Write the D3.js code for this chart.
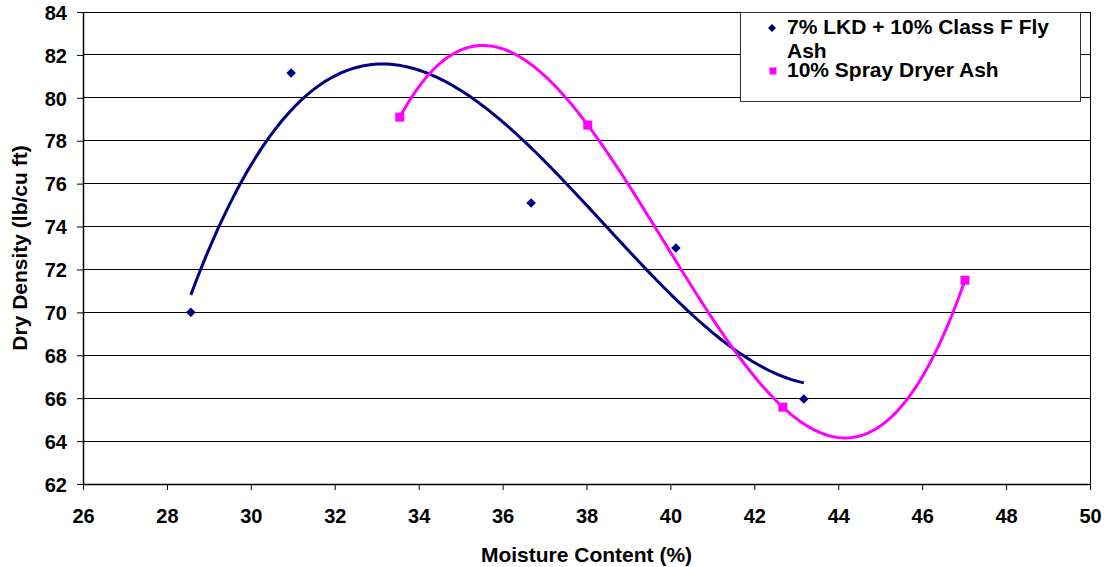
<!DOCTYPE html>
<html>
<head>
<meta charset="utf-8">
<script src="https://cdn.jsdelivr.net/npm/d3@7"></script>
<style>
  body { margin: 0; background: #fff; }
  text { font-family: "Liberation Sans", Arial, sans-serif; font-weight: bold; }
</style>
</head>
<body>
<div id="vis"></div>
<script>
// data
let lkdX = [28.57, 30.96, 36.68, 40.13, 43.18];
let lkdY = [70.0, 81.16, 75.1, 73.0, 65.96];
let sdaX = [33.55, 38.03, 42.68, 47.02];
let sdaY = [79.1, 78.73, 65.58, 71.5];
let xTicks = [26, 28, 30, 32, 34, 36, 38, 40, 42, 44, 46, 48, 50];
let yTicks = [62, 64, 66, 68, 70, 72, 74, 76, 78, 80, 82, 84];
let seriesNames = ['7% LKD + 10% Class F Fly Ash', '10% Spray Dryer Ash'];

let W = 1107, H = 567;
let margin = { top: 12, left: 83, right: 17, bottom: 83 },
    width = W - margin.left - margin.right,
    height = H - margin.top - margin.bottom;

let svg = d3.select('#vis')
    .append('svg')
    .attr('width', W)
    .attr('height', H);

let g = svg.append('g')
    .attr('transform', 'translate(' + margin.left + ',' + margin.top + ')');

let x = d3.scaleLinear().domain([26, 50]).range([0, width]);
let y = d3.scaleLinear().domain([62, 84]).range([height, 0]);

// gridlines
g.append('g')
    .selectAll('line')
    .data(yTicks)
    .enter().append('line')
    .attr('x1', 0).attr('x2', width)
    .attr('y1', d => y(d)).attr('y2', d => y(d))
    .attr('stroke', '#000')
    .attr('stroke-width', 1)
    .attr('shape-rendering', 'crispEdges');

// right border
g.append('line')
    .attr('x1', width).attr('x2', width)
    .attr('y1', 0).attr('y2', height)
    .attr('stroke', '#000')
    .attr('shape-rendering', 'crispEdges');

// axes
let xAxis = g.append('g')
    .attr('transform', 'translate(0,' + height + ')')
    .call(d3.axisBottom(x).tickValues(xTicks).tickSize(6).tickSizeOuter(0).tickPadding(19));
let yAxis = g.append('g')
    .call(d3.axisLeft(y).tickValues(yTicks).tickSize(6).tickSizeOuter(0).tickPadding(10));

[xAxis, yAxis].forEach(a => {
    a.selectAll('path').attr('stroke', '#000').attr('stroke-width', 1.5);
    a.selectAll('line').attr('stroke', '#000');
    a.selectAll('text')
        .attr('fill', '#000')
        .style('font-size', '20px')
        .style('font-family', '"Liberation Sans", Arial, sans-serif')
        .style('font-weight', 'bold');
});
yAxis.selectAll('text').attr('dy', '0.36em');

// least squares polynomial fit (excel-style trendline)
function polyFit(xs, ys, order) {
    let n = order + 1;
    let A = [];
    for (let i = 0; i < n; i++) {
        A.push([]);
        for (let j = 0; j < n; j++) A[i].push(d3.sum(xs, xv => Math.pow(xv, i + j)));
        A[i].push(d3.sum(xs, (xv, k) => ys[k] * Math.pow(xv, i)));
    }
    for (let c = 0; c < n; c++) {
        let p = c;
        for (let r = c + 1; r < n; r++) if (Math.abs(A[r][c]) > Math.abs(A[p][c])) p = r;
        [A[c], A[p]] = [A[p], A[c]];
        for (let r = 0; r < n; r++) {
            if (r === c) continue;
            let f = A[r][c] / A[c][c];
            for (let k = c; k <= n; k++) A[r][k] -= f * A[c][k];
        }
    }
    let coef = A.map((row, i) => row[n] / row[i]);
    return xv => d3.sum(coef, (cf, i) => cf * Math.pow(xv, i));
}

function trend(xs, ys) {
    let f = polyFit(xs, ys, 3);
    let lo = d3.min(xs), hi = d3.max(xs);
    return d3.range(0, 201).map(i => {
        let xv = lo + (hi - lo) * i / 200;
        return [xv, f(xv)];
    });
}

let line = d3.line().x(d => x(d[0])).y(d => y(d[1]));

g.append('path')
    .datum(trend(lkdX, lkdY))
    .attr('fill', 'none')
    .attr('stroke', '#000080')
    .attr('stroke-width', 3)
    .attr('d', line);

g.append('path')
    .datum(trend(sdaX, sdaY))
    .attr('fill', 'none')
    .attr('stroke', '#ff00ff')
    .attr('stroke-width', 3)
    .attr('d', line);

// markers
g.append('g')
    .selectAll('path')
    .data(lkdX.map((d, i) => [d, lkdY[i]]))
    .enter().append('path')
    .attr('d', d3.symbol(d3.symbolDiamond2, 58))
    .attr('transform', d => 'translate(' + x(d[0]) + ',' + y(d[1]) + ')')
    .attr('fill', '#000080');

g.append('g')
    .selectAll('rect')
    .data(sdaX.map((d, i) => [d, sdaY[i]]))
    .enter().append('rect')
    .attr('x', d => x(d[0]) - 4.5)
    .attr('y', d => y(d[1]) - 4.5)
    .attr('width', 9)
    .attr('height', 9)
    .attr('fill', '#ff00ff');

// axis titles
svg.append('text')
    .attr('x', margin.left + width / 2)
    .attr('y', 562)
    .attr('text-anchor', 'middle')
    .style('font-size', '21px')
    .text('Moisture Content (%)');

svg.append('text')
    .attr('transform', 'translate(27,' + (margin.top + height / 2) + ') rotate(-90)')
    .attr('text-anchor', 'middle')
    .style('font-size', '21px')
    .text('Dry Density (lb/cu ft)');

// legend
let legend = svg.append('g').attr('transform', 'translate(740,12)');
legend.append('rect')
    .attr('x', 0.5).attr('y', 0.5)
    .attr('width', 340).attr('height', 89)
    .attr('fill', '#fff')
    .attr('stroke', '#333')
    .attr('stroke-width', 1);

legend.append('path')
    .attr('d', d3.symbol(d3.symbolDiamond2, 40))
    .attr('transform', 'translate(32,16)')
    .attr('fill', '#000080');
legend.append('rect')
    .attr('x', 29.5).attr('y', 55.5)
    .attr('width', 7).attr('height', 7)
    .attr('fill', '#ff00ff');

let lt = legend.append('text')
    .style('font-size', '21px')
    .attr('fill', '#000');
lt.append('tspan').attr('x', 47).attr('y', 22).text('7% LKD + 10% Class F Fly');
lt.append('tspan').attr('x', 47).attr('y', 46).text('Ash');
legend.append('text')
    .attr('x', 47)
    .attr('y', 65)
    .style('font-size', '21px')
    .attr('fill', '#000')
    .text(seriesNames[1]);
</script>
</body>
</html>
